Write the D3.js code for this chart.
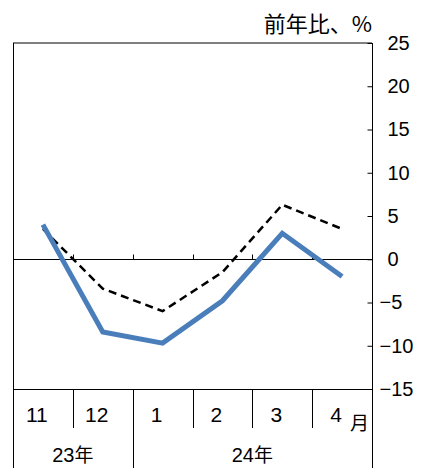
<!DOCTYPE html>
<html>
<head>
<meta charset="utf-8">
<script src="https://cdn.jsdelivr.net/npm/d3@7"></script>
<style>
  body { margin: 0; background: #fff; }
  svg { display: block; }
</style>
</head>
<body>
<div id="chart-area"></div>
<script>
// data
const months = ["11", "12", "1", "2", "3", "4"]
const years = [{ label: "23年", from: "11", to: "12" }, { label: "24年", from: "1", to: "4" }]
const solidValues = [4.0, -8.4, -9.7, -4.8, 3.0, -2.0]
const dashedValues = [3.5, -3.4, -6.0, -1.5, 6.3, 3.5]
const yTicks = [25, 20, 15, 10, 5, 0, -5, -10, -15]

const W = 423, H = 468
const MARGIN = { LEFT: 13, RIGHT: 51, TOP: 43, BOTTOM: 79 }
const NUM_FONT = "'Liberation Sans Narrow', 'Liberation Sans', sans-serif"
const JP_FONT = "'Noto Sans CJK JP', sans-serif"

const svg = d3.select("#chart-area").append("svg")
  .attr("width", W)
  .attr("height", H)

const x0 = MARGIN.LEFT, x1 = W - MARGIN.RIGHT
const y0 = MARGIN.TOP, y1 = H - MARGIN.BOTTOM

const xScale = d3.scaleBand()
  .domain(months)
  .range([x0, x1])

const yScale = d3.scaleLinear()
  .domain([-15, 25])
  .range([y1, y0])

// frame
svg.append("line").attr("x1", x0).attr("x2", x1).attr("y1", y0).attr("y2", y0)
  .attr("stroke", "#000").attr("stroke-width", 1)
svg.append("line").attr("x1", x0).attr("x2", x1).attr("y1", y1 + 0.5).attr("y2", y1 + 0.5)
  .attr("stroke", "#000").attr("stroke-width", 1)
svg.append("line").attr("x1", x0 + 0.5).attr("x2", x0 + 0.5).attr("y1", y0).attr("y2", H)
  .attr("stroke", "#000").attr("stroke-width", 1)
svg.append("line").attr("x1", x1 + 0.5).attr("x2", x1 + 0.5).attr("y1", y0).attr("y2", H)
  .attr("stroke", "#000").attr("stroke-width", 1)

// right axis, ticks pointing inward
const yAxis = svg.append("g")
  .attr("transform", `translate(${x1 + 0.5}, 0)`)
  .call(d3.axisRight(yScale)
    .tickValues(yTicks)
    .tickSizeInner(-5)
    .tickSizeOuter(0)
    .tickPadding(15)
    .tickFormat(d => d < 0 ? "\u2212" + Math.abs(d) : String(d)))
yAxis.select(".domain").remove()
yAxis.selectAll("text")
  .attr("font-family", NUM_FONT)
  .attr("font-size", "20px")
  .attr("fill", "#000")
  .attr("dx", d => d < 0 ? -8 : 0)

// zero line with small ticks at month boundaries
const zeroY = Math.round(yScale(0)) + 0.5
svg.append("line").attr("x1", x0).attr("x2", x1).attr("y1", zeroY).attr("y2", zeroY)
  .attr("stroke", "#000").attr("stroke-width", 1)
const bounds = months.slice(1).map(m => xScale(m))
svg.selectAll(".zero-tick").data(bounds).enter().append("line")
  .attr("class", "zero-tick")
  .attr("x1", d => Math.round(d) + 0.5).attr("x2", d => Math.round(d) + 0.5)
  .attr("y1", zeroY).attr("y2", zeroY - 5)
  .attr("stroke", "#000").attr("stroke-width", 1)

// category table under the plot
svg.selectAll(".month-sep").data(months.slice(1)).enter().append("line")
  .attr("class", "month-sep")
  .attr("x1", d => Math.round(xScale(d)) + 0.5).attr("x2", d => Math.round(xScale(d)) + 0.5)
  .attr("y1", y1).attr("y2", d => years.some(yr => yr.from === d) ? H : y1 + 39)
  .attr("stroke", "#000").attr("stroke-width", 1)

svg.selectAll(".month-label").data(months).enter().append("text")
  .attr("class", "month-label")
  .attr("x", d => xScale(d) + xScale.bandwidth() / 2 - 6)
  .attr("y", y1 + 33)
  .attr("text-anchor", "middle")
  .attr("font-family", NUM_FONT)
  .attr("font-size", "21px")
  .text(d => d)

svg.append("text")
  .attr("x", x1 - 3)
  .attr("y", y1 + 41)
  .attr("text-anchor", "end")
  .attr("font-family", JP_FONT)
  .attr("font-size", "19px")
  .text("月")

svg.selectAll(".year-label").data(years).enter().append("text")
  .attr("class", "year-label")
  .attr("x", d => (xScale(d.from) + xScale(d.to) + xScale.bandwidth()) / 2)
  .attr("y", H - 6)
  .attr("text-anchor", "middle")
  .attr("font-family", NUM_FONT)
  .attr("font-size", "20px")
  .selectAll("tspan")
  .data(d => [d.label.slice(0, -1), d.label.slice(-1)])
  .enter().append("tspan")
  .attr("font-family", (d, i) => i ? JP_FONT : NUM_FONT)
  .attr("font-size", (d, i) => i ? "19px" : "20px")
  .text(d => d)

// unit label
svg.append("text")
  .attr("x", x1)
  .attr("y", 32)
  .attr("text-anchor", "end")
  .attr("font-family", JP_FONT)
  .attr("font-size", "22px")
  .text("前年比、%")

// lines
const line = d3.line()
  .x((d, i) => xScale(months[i]) + xScale.bandwidth() / 2)
  .y(d => yScale(d))

svg.append("path")
  .datum(dashedValues)
  .attr("fill", "none")
  .attr("stroke", "#000")
  .attr("stroke-width", 2.5)
  .attr("stroke-dasharray", "8,5")
  .attr("d", line)

svg.append("path")
  .datum(solidValues)
  .attr("fill", "none")
  .attr("stroke", "#4a7ebb")
  .attr("stroke-width", 5)
  .attr("d", line)
</script>
</body>
</html>
